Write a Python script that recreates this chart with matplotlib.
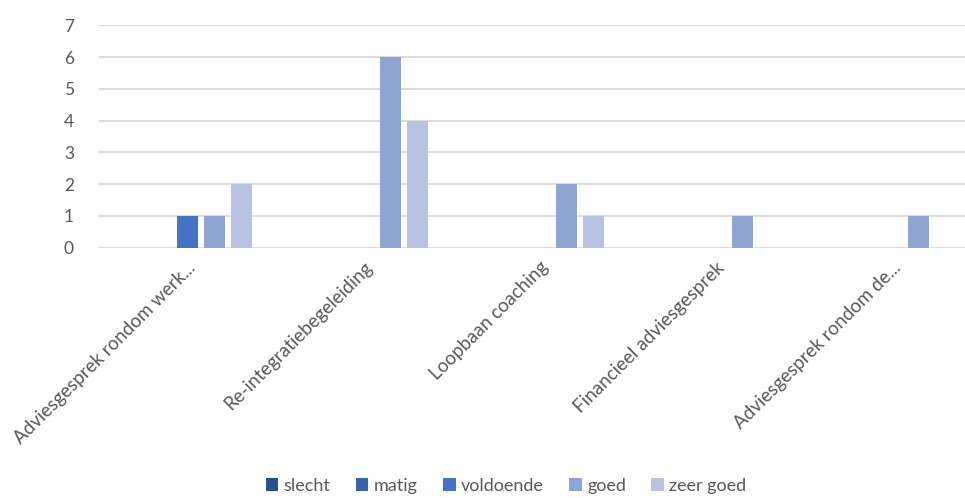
import matplotlib
matplotlib.use("Agg")
import matplotlib.pyplot as plt
import numpy as np

categories = ["Adviesgesprek rondom werk...", "Re-integratiebegeleiding", "Loopbaan coaching",
              "Financieel adviesgesprek", "Adviesgesprek rondom de..."]
series_names = ["slecht", "matig", "voldoende", "goed", "zeer goed"]
slecht = [0, 0, 0, 0, 0]
matig = [0, 0, 0, 0, 0]
voldoende = [1, 0, 0, 0, 0]
goed = [1, 6, 2, 1, 1]
zeer_goed = [2, 4, 1, 0, 0]
y_ticks = [0, 1, 2, 3, 4, 5, 6, 7]

colors = ["#2B4F8F", "#3562B1", "#4472C4", "#8FA4D3", "#B8C3E1"]
values = [slecht, matig, voldoende, goed, zeer_goed]

plt.rcParams['font.family'] = ['Lato', 'DejaVu Sans']

W, H = 965, 498
fig = plt.figure(figsize=(W / 100, H / 100), dpi=100)
left, right, top, bottom = 99, 965, 25.3, 247.7
ax = fig.add_axes([left / W, 1 - bottom / H, (right - left) / W, (bottom - top) / H])

x = np.arange(len(categories))
step = 27 / 176
width = 21 / 176
for i, (name, vals) in enumerate(zip(series_names, values)):
    ax.bar(x + (i - 2) * step, vals, width=width, color=colors[i], label=name, zorder=3)

ax.set_ylim(0, 7)
ax.set_xlim(-0.5, 4.5 - 15 / 176)
ax.set_yticks(y_ticks)
ax.grid(axis='y', color='#D9D9D9', linewidth=1.3, zorder=0)
ax.set_axisbelow(True)
for s in ax.spines.values():
    s.set_visible(False)
ax.tick_params(axis='both', length=0, colors='#595959')
ax.tick_params(axis='y', pad=18, labelsize=12.5)
ax.set_xticks(x)
ax.set_xticklabels(categories, rotation=45, ha='right', rotation_mode='anchor', fontsize=13.5)
ax.tick_params(axis='x', pad=8)

ax.legend(loc='center', bbox_to_anchor=(0.5 - 0.03, -1.07), ncol=5, frameon=False,
          handlelength=0.7, handleheight=0.7, handletextpad=0.3, columnspacing=1.4,
          fontsize=13, labelcolor='#595959')

fig.savefig("out.png", dpi=100, facecolor='white')
